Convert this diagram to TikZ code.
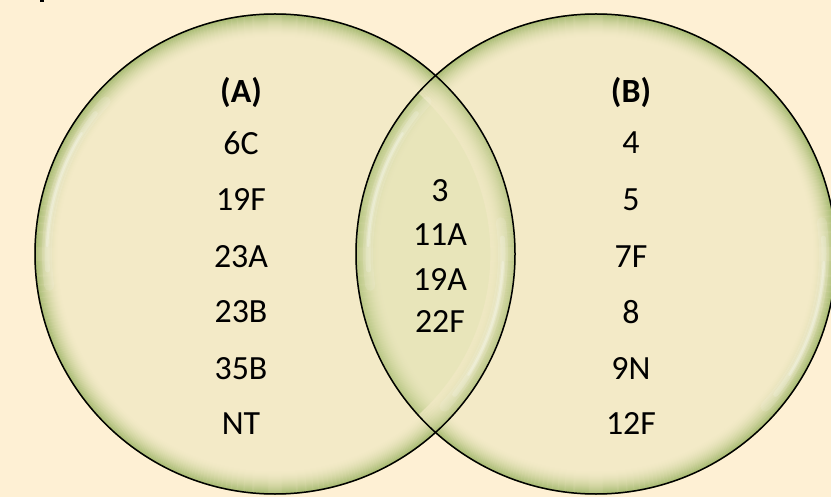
\documentclass[tikz,border=0pt]{standalone}
\usepackage{fontspec}
\setmainfont{Carlito}
\definecolor{bgc}{HTML}{FEF0D4}
\definecolor{vin}{HTML}{F3EAC7}
\definecolor{vedge}{HTML}{A3B86D}
\definecolor{vtint}{HTML}{D5DCA4}
\begin{document}
\begin{tikzpicture}[x=1bp,y=-1bp,
  lab/.style={font=\fontsize{34}{40}\selectfont, text=black, inner sep=0pt, anchor=center},
  hdr/.style={lab, font=\fontsize{34}{40}\selectfont\bfseries},
  rim/.style={draw=black, line width=1.5bp},
  glow/.style={white, line cap=round}]
\useasboundingbox (0,0) rectangle (831,497);
\fill[bgc] (0,0) rectangle (831,497);
\fill[black] (40,0) rectangle (44,2.5);
\coordinate (cl) at (275,254);
\coordinate (cr) at (596,254);
% left circle
\fill[vin] (cl) circle (240);
\foreach \i in {0,...,24}{
  \pgfmathsetmacro\p{100*(1-\i/24)^1.8}
  \draw[vedge!\p!vin, line width=1.3bp] (cl) circle (240-\i);
}
% right circle
\fill[vin] (cr) circle (240);
\foreach \i in {0,...,24}{
  \pgfmathsetmacro\p{100*(1-\i/24)^1.8}
  \draw[vedge!\p!vin, line width=1.3bp] (cr) circle (240-\i);
}
% lens
\begin{scope}
  \clip (cr) circle (240);
  \fill[vtint, opacity=0.35] (cl) circle (240);
  \foreach \i in {0,...,24}{
    \pgfmathsetmacro\p{100*(1-\i/24)^1.8}
    \draw[vedge!\p!vin, line width=1.3bp, opacity=0.55] (cl) circle (240-\i);
  }
\end{scope}
% glossy highlights
\foreach \c in {cl,cr}{
  \draw[glow, line width=10bp, opacity=0.12] (\c) ++(-138:228) arc[start angle=-138, end angle=-188, radius=228];
  \draw[glow, line width=5bp, opacity=0.18] (\c) ++(-142:228) arc[start angle=-142, end angle=-184, radius=228];
  \draw[glow, line width=2.5bp, opacity=0.25] (\c) ++(-148:228) arc[start angle=-148, end angle=-178, radius=228];
  \draw[glow, line width=10bp, opacity=0.12] (\c) ++(42:228) arc[start angle=42, end angle=-8, radius=228];
  \draw[glow, line width=5bp, opacity=0.18] (\c) ++(38:228) arc[start angle=38, end angle=-4, radius=228];
  \draw[glow, line width=2.5bp, opacity=0.25] (\c) ++(32:228) arc[start angle=32, end angle=2, radius=228];
}
\draw[rim] (cl) circle (240);
\draw[rim] (cr) circle (240);
% left set
\node[hdr] (a0) at (241,92) {(A)};
\node[lab] (a1) at (241,143) {6C};
\node[lab] (a2) at (241,200) {19F};
\node[lab] (a3) at (241,257) {23A};
\node[lab] (a4) at (241,312) {23B};
\node[lab] (a5) at (241,369) {35B};
\node[lab] (a6) at (241,424) {NT};
% middle
\node[lab] (m1) at (440,191) {3};
\node[lab] (m2) at (440,235) {11A};
\node[lab] (m3) at (440,280) {19A};
\node[lab] (m4) at (440,322) {22F};
% right set
\node[hdr] (b0) at (631,92) {(B)};
\node[lab] (b1) at (631,143) {4};
\node[lab] (b2) at (631,200) {5};
\node[lab] (b3) at (631,257) {7F};
\node[lab] (b4) at (631,312) {8};
\node[lab] (b5) at (631,369) {9N};
\node[lab] (b6) at (631,424) {12F};
\end{tikzpicture}
\end{document}
